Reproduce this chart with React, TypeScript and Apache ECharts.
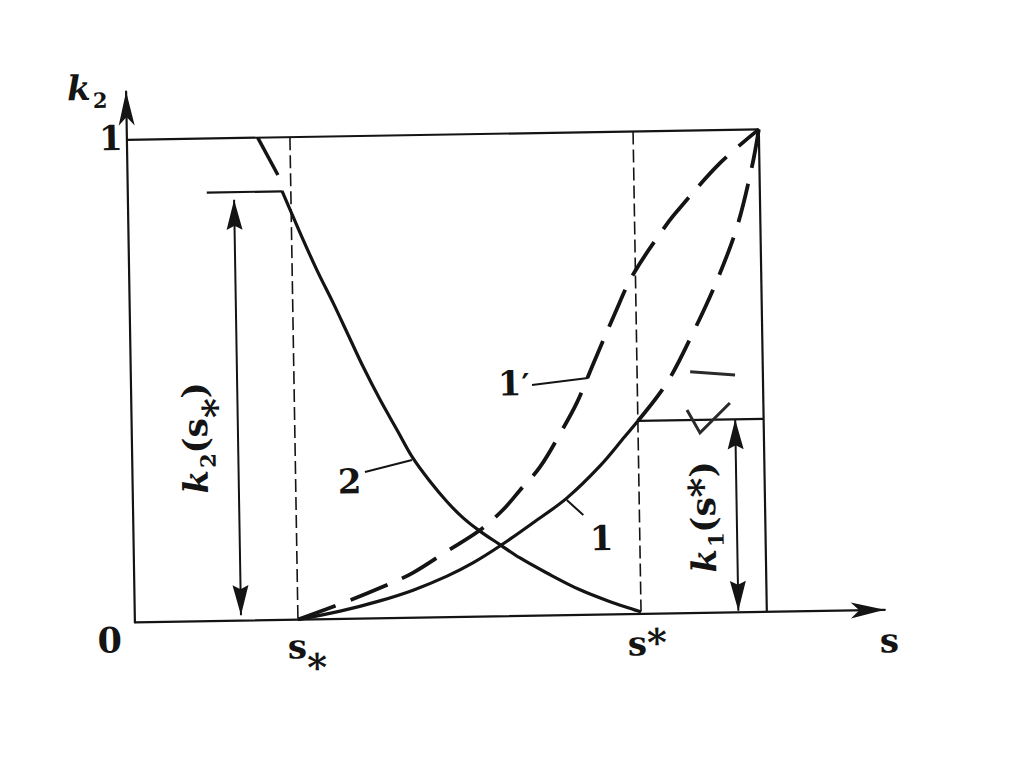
import React, { useEffect, useRef } from "react";
import * as echarts from "echarts";

// ---------------- data (s = saturation, k = relative permeability) ----------------
const sLow = 0.258; // s_*
const sHigh = 0.801; // s^*
const k2AtSLow = 0.888; // k2(s_*)
const k1AtSHigh = 0.4; // k1(s^*)

// curve 2 (solid, decreasing)
const curve2S = [0.244, 0.271, 0.297, 0.322, 0.345, 0.368, 0.394, 0.42, 0.444, 0.471, 0.497, 0.522, 0.548, 0.58, 0.611, 0.653, 0.705, 0.757, 0.792, 0.801];
const curve2K = [0.889, 0.803, 0.724, 0.655, 0.588, 0.521, 0.452, 0.389, 0.331, 0.281, 0.239, 0.205, 0.177, 0.148, 0.12, 0.088, 0.052, 0.024, 0.008, 0.004];
// dashed continuation of curve 2 above k2(s_*)
const curve2ExtS = [0.207, 0.238];
const curve2ExtK = [1.0, 0.922];

// curve 1 (solid part up to s^*)
const curve1S = [0.258, 0.325, 0.388, 0.441, 0.495, 0.537, 0.58, 0.632, 0.687, 0.74, 0.78, 0.801];
const curve1K = [0.0, 0.016, 0.036, 0.057, 0.085, 0.112, 0.146, 0.192, 0.243, 0.308, 0.368, 0.4];
// curve 1 (dashed part beyond s^*)
const curve1UpS = [0.801, 0.848, 0.891, 0.93, 0.963, 0.988, 1.0];
const curve1UpK = [0.4, 0.478, 0.582, 0.689, 0.799, 0.922, 1.0];

// curve 1' (dashed)
const curve1pS = [0.258, 0.33, 0.393, 0.441, 0.496, 0.548, 0.585, 0.613, 0.645, 0.681, 0.705, 0.732, 0.768, 0.797, 0.852, 0.873, 0.938, 1.0];
const curve1pK = [0.0, 0.033, 0.065, 0.093, 0.137, 0.179, 0.22, 0.261, 0.308, 0.384, 0.44, 0.52, 0.625, 0.703, 0.807, 0.84, 0.932, 1.0];

// axis extents
const sAxisMax = 1.1867;
const kAxisMax = 1.1;

// texts
const originLabel = "0";
const unitLabel = "1";
const sAxisName = "s";
const curveNames = ["1\u2032", "2", "1"];

// ---------------- drawing ----------------
const ink = "#141414";
const FAMILY = '"DejaVu Serif", "Liberation Serif", serif';

const pts = (xs: number[], ys: number[]) => xs.map((x, i) => [x, ys[i]]);

function lineSeries(data: number[][], width: number, type: any = "solid", smooth = false, z = 3) {
  return {
    type: "line",
    data,
    symbol: "none",
    showSymbol: false,
    silent: true,
    smooth: smooth ? 0.35 : false,
    lineStyle: { color: ink, width, type, cap: "butt", join: "round" },
    z,
  };
}

type Tok = { t: string; size: number; italic?: boolean; dy?: number; star?: boolean; gap?: number };

let measureCtx: CanvasRenderingContext2D | null = null;
function fontOf(tok: Tok) {
  return `${tok.italic ? "italic " : ""}bold ${tok.size}px ${FAMILY}`;
}
function widthOf(tok: Tok) {
  if (!measureCtx) measureCtx = document.createElement("canvas").getContext("2d");
  measureCtx!.font = fontOf(tok);
  return measureCtx!.measureText(tok.t).width;
}
function runWidth(toks: Tok[]) {
  return toks.reduce((a, t) => a + widthOf(t) + (t.gap ?? 0), 0);
}
function buildRun(toks: Tok[], x0: number, base: number) {
  let x = x0;
  const out: any[] = [];
  for (const tok of toks) {
    const w = widthOf(tok);
    x += tok.gap ?? 0;
    const y = tok.star ? base + (tok.dy ?? 0) + 0.2 * tok.size : base + (tok.dy ?? 0) - 0.346 * tok.size;
    out.push({
      type: "text",
      x,
      y,
      silent: true,
      style: {
        text: tok.t,
        fontSize: tok.size,
        fontFamily: FAMILY,
        fontWeight: "bold",
        fontStyle: tok.italic ? "italic" : "normal",
        fill: ink,
        align: "left",
        verticalAlign: "middle",
      },
    });
    x += w;
  }
  return out;
}

function arrowHead(tip: number[], from: number[], len = 30, halfW = 8, notch = 4) {
  const dx = tip[0] - from[0];
  const dy = tip[1] - from[1];
  const L = Math.hypot(dx, dy) || 1;
  const ux = dx / L;
  const uy = dy / L;
  const px = -uy;
  const py = ux;
  const bx = tip[0] - ux * len;
  const by = tip[1] - uy * len;
  return {
    type: "polygon",
    silent: true,
    shape: {
      points: [
        [tip[0], tip[1]],
        [bx + px * halfW, by + py * halfW],
        [tip[0] - ux * (len - notch), tip[1] - uy * (len - notch)],
        [bx - px * halfW, by - py * halfW],
      ],
    },
    style: { fill: ink },
    z: 10,
  };
}

export default function App() {
  const ref = useRef<HTMLDivElement>(null);

  useEffect(() => {
    const el = ref.current!;
    const chart = echarts.init(el, undefined, { renderer: "svg" });

    const axisCommon = {
      type: "value",
      min: 0,
      axisTick: { show: false },
      axisLabel: { show: false },
      splitLine: { show: false },
    };

    chart.setOption({
      animation: false,
      backgroundColor: "#ffffff",
      grid: { left: 131, top: 616 - kAxisMax * 482.5, width: sAxisMax * 632, height: kAxisMax * 482.5 },
      xAxis: {
        ...axisCommon,
        max: sAxisMax,
        axisLine: { show: true, onZero: true, symbol: ["none", "arrow"], symbolSize: [12, 34], lineStyle: { color: ink, width: 2.2 } },
      },
      yAxis: {
        ...axisCommon,
        max: kAxisMax,
        axisLine: { show: true, onZero: true, symbol: ["none", "arrow"], symbolSize: [12, 34], lineStyle: { color: ink, width: 2.2 } },
      },
      series: [
        // frame: k = 1 and s = 1
        lineSeries([[0, 1], [1, 1]], 2.2),
        lineSeries([[1, 1], [1, 0]], 2.2),
        // s_* and s^* dashed verticals
        lineSeries([[sLow, 1], [sLow, 0]], 1.6, [13, 5]),
        lineSeries([[sHigh, 1], [sHigh, 0.005]], 1.6, [13, 5]),
        // k2(s_*) and k1(s^*) levels
        lineSeries([[0.125, k2AtSLow], [curve2S[0], k2AtSLow]], 2.2),
        lineSeries([[sHigh, k1AtSHigh], [1, k1AtSHigh]], 2.2),
        // curves
        lineSeries(pts(curve2ExtS, curve2ExtK), 3.5),
        lineSeries(pts(curve2S, curve2K), 3.2, "solid", true, 4),
        lineSeries(pts(curve1S, curve1K), 3.2, "solid", true, 4),
        lineSeries(pts(curve1UpS, curve1UpK), 3.8, [40, 16], true, 4),
        lineSeries(pts(curve1pS, curve1pK), 3.8, [40, 16], true, 4),
      ],
    });

    const P = (s: number, k: number) => chart.convertToPixel({ gridIndex: 0 }, [s, k]) as number[];
    const g: any[] = [];

    const addLine = (a: number[], b: number[], w = 2) => {
      g.push({ type: "line", silent: true, shape: { x1: a[0], y1: a[1], x2: b[0], y2: b[1] }, style: { stroke: ink, lineWidth: w }, z: 10 });
    };
    const addDoubleArrow = (s: number, kTop: number, kBottom: number) => {
      const a = P(s, kTop);
      const b = P(s, kBottom);
      addLine(a, b, 2);
      g.push(arrowHead(a, b));
      g.push(arrowHead(b, a));
    };
    const addText = (toks: Tok[], s: number, k: number, anchor: "left" | "center") => {
      const p = P(s, k);
      const w = runWidth(toks);
      const x0 = anchor === "center" ? p[0] - w / 2 : p[0];
      g.push(...buildRun(toks, x0, p[1]));
    };
    const addRotated = (toks: Tok[], s: number, k: number) => {
      const p = P(s, k);
      const w = runWidth(toks);
      g.push({ type: "group", x: p[0], y: p[1], rotation: Math.PI / 2, children: buildRun(toks, -w / 2, 10) });
    };

    // double arrows for k2(s_*) and k1(s^*)
    addDoubleArrow(0.168, 0.872, 0.011);
    addDoubleArrow(0.955, k1AtSHigh, 0.003);

    // leader lines
    addLine(P(0.6345, 0.4781), P(0.7233, 0.4906), 2);
    addLine(P(0.3679, 0.3034), P(0.4426, 0.3268), 2);
    addLine(P(0.6864, 0.2385), P(0.7122, 0.2068), 2);

    // pen marks on the scan
    g.push({ type: "polyline", silent: true, shape: { points: [P(0.885, 0.5), P(0.956, 0.492)] }, style: { stroke: "#2a2a2a", lineWidth: 3, fill: null }, z: 10 });
    g.push({ type: "polyline", silent: true, shape: { points: [P(0.879, 0.421), P(0.899, 0.373), P(0.947, 0.434)] }, style: { stroke: "#2a2a2a", lineWidth: 3, fill: null }, z: 10 });

    // axis texts
    addText([{ t: originLabel, size: 35 }], -0.0403, -0.061, "center");
    addText([{ t: unitLabel, size: 34 }], -0.0253, 0.9797, "center");
    addText([{ t: "k", size: 34, italic: true }, { t: "2", size: 21, dy: 8, gap: 2 }], -0.0934, 1.0844, "left");
    addText([{ t: "s", size: 34 }, { t: "*", size: 38, star: true, dy: 2 }], 0.2411, -0.0796, "left");
    addText([{ t: "s", size: 34 }, { t: "*", size: 38, star: true, dy: -20 }], 0.7793, -0.0852, "left");
    addText([{ t: sAxisName, size: 34 }], 1.178, -0.0877, "left");

    // curve labels
    addText([{ t: "1", size: 34 }, { t: "\u2032", size: 30 }], 0.5804, 0.4582, "left");
    addText([{ t: curveNames[1], size: 34 }], 0.3247, 0.2605, "left");
    addText([{ t: curveNames[2], size: 34 }], 0.7218, 0.1339, "left");

    // rotated labels k2(s_*) and k1(s^*)
    addRotated(
      [{ t: "k", size: 34, italic: true }, { t: "2", size: 21, dy: 8, gap: 2 }, { t: "(", size: 34 }, { t: "s", size: 34 }, { t: "*", size: 38, star: true, dy: 2 }, { t: ")", size: 34 }],
      0.103,
      0.3797
    );
    addRotated(
      [{ t: "k", size: 34, italic: true }, { t: "1", size: 21, dy: 8, gap: 2 }, { t: "(", size: 34 }, { t: "s", size: 34 }, { t: "*", size: 38, star: true, dy: -20 }, { t: ")", size: 34 }],
      0.9047,
      0.1985
    );

    chart.setOption({ graphic: g });

    return () => chart.dispose();
  }, []);

  return (
    <div style={{ position: "fixed", left: 0, top: 0, width: "100vw", height: "100vh", overflow: "hidden", background: "#fff" }}>
      <div
        ref={ref}
        style={{ position: "absolute", left: 0, top: 0, width: 1024, height: 767, transform: "rotate(-0.95deg)", transformOrigin: "50% 50%" }}
      />
    </div>
  );
}
